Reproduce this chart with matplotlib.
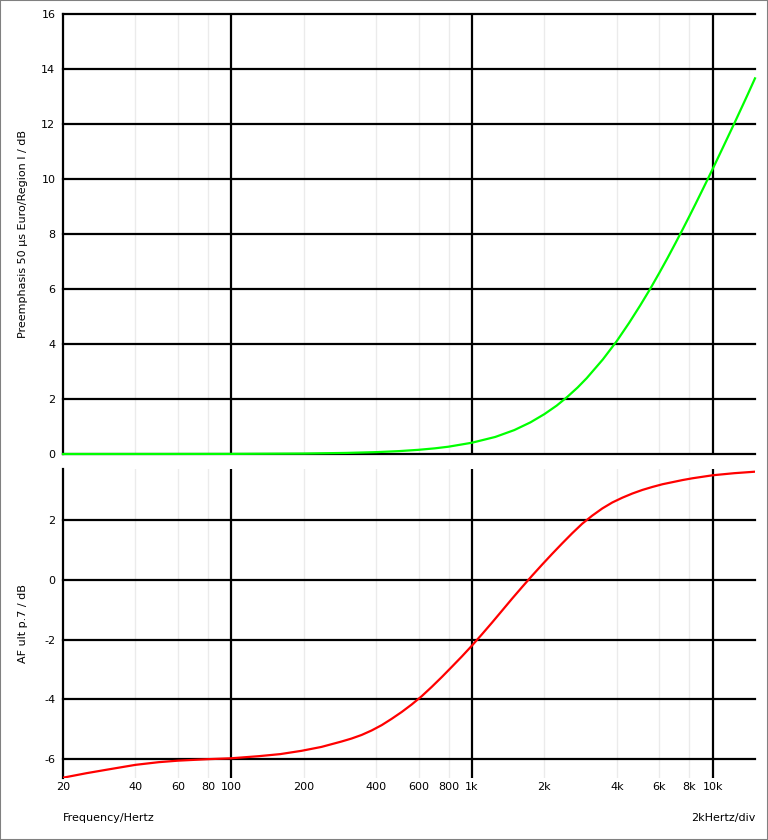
import matplotlib

matplotlib.use('agg')

import matplotlib.pyplot as plt
from matplotlib.patches import Rectangle

# values
freq_top = [20, 50, 100, 200, 300, 400, 500, 600, 700, 800, 1000, 1250, 1500, 1750,
            2000, 2250, 2500, 2750, 3000, 3500, 4000, 4500, 5000, 5500, 6000, 6500,
            7000, 7500, 8000, 8500, 9000, 9500, 10000, 11000, 12000, 12500, 13500,
            14000, 15000]
preemph_db = [0.0, 0.001, 0.004, 0.017, 0.039, 0.068, 0.106, 0.152, 0.205, 0.266,
              0.41, 0.62, 0.87, 1.15, 1.45, 1.76, 2.09, 2.42, 2.76, 3.44, 4.11, 4.77,
              5.40, 6.00, 6.58, 7.13, 7.66, 8.16, 8.64, 9.10, 9.54, 9.96, 10.36,
              11.12, 11.82, 12.15, 12.78, 13.08, 13.66]

freq_bot = [20, 25, 30, 40, 50, 60, 80, 100, 130, 160, 196, 237, 287, 316, 348, 383,
            422, 464, 511, 562, 619, 681, 750, 825, 909, 1000, 1101, 1212, 1334, 1468,
            1616, 1778, 1957, 2154, 2371, 2610, 2873, 3162, 3481, 3831, 4217, 4642,
            5109, 5623, 6190, 6813, 7499, 8254, 9085, 10000, 12300, 15000]
af_db = [-6.62, -6.47, -6.36, -6.19, -6.10, -6.05, -6.00, -5.97, -5.90, -5.83, -5.72,
         -5.59, -5.41, -5.31, -5.19, -5.04, -4.86, -4.65, -4.42, -4.17, -3.89, -3.58,
         -3.25, -2.91, -2.56, -2.20, -1.82, -1.43, -1.03, -0.63, -0.24, 0.14, 0.51,
         0.87, 1.22, 1.56, 1.88, 2.15, 2.39, 2.59, 2.75, 2.89, 3.01, 3.11, 3.20,
         3.27, 3.34, 3.40, 3.45, 3.50, 3.57, 3.62]

major_x = [100, 1000, 10000]
minor_x = [20, 40, 60, 80, 200, 400, 600, 800, 2000, 4000, 6000, 8000]
tick_pos = [20, 40, 60, 80, 100, 200, 400, 600, 800, 1000, 2000, 4000, 6000, 8000, 10000]
tick_lab = ['20', '40', '60', '80', '100', '200', '400', '600', '800', '1k',
            '2k', '4k', '6k', '8k', '10k']
top_yticks = [0, 2, 4, 6, 8, 10, 12, 14, 16]
bot_yticks = [-6, -4, -2, 0, 2]

plt.rcParams['font.family'] = ['DejaVu Sans']
plt.rcParams['font.size'] = 8

fig = plt.figure(figsize=(7.68, 8.40), dpi=100)
fig.patches.append(Rectangle((0, 0), 1, 1, transform=fig.transFigure, fill=False,
                             edgecolor='#808080', linewidth=1.5))

ax1 = fig.add_axes([63 / 768, 1 - 454 / 840, 692 / 768, 440 / 840])
ax2 = fig.add_axes([63 / 768, 1 - 778 / 840, 692 / 768, 309 / 840])


def style(ax, yticks, ylim):
    ax.set_xscale('log')
    ax.set_xlim(20, 15000)
    ax.set_ylim(*ylim)
    for s in ['top', 'right', 'bottom']:
        ax.spines[s].set_visible(False)
    ax.spines['left'].set_linewidth(1.6)
    ax.spines['left'].set_color('black')
    for x in minor_x:
        ax.axvline(x, color='#ebebeb', lw=1, zorder=0)
    for x in major_x:
        ax.axvline(x, color='black', lw=1.6, zorder=1)
    for y in yticks:
        ax.axhline(y, color='black', lw=1.6, zorder=1, clip_on=False)
    ax.set_yticks(yticks)
    ax.set_yticklabels([str(v) for v in yticks])
    ax.tick_params(axis='y', length=0, pad=5.5)
    ax.minorticks_off()
    ax.set_xticks(tick_pos)
    ax.set_xticklabels(tick_lab)
    ax.tick_params(axis='x', length=0, pad=3)


style(ax1, top_yticks, (0, 16))
style(ax2, bot_yticks, (-6.63, 3.71))
ax1.set_xticklabels([])

ax1.plot(freq_top, preemph_db, color='#00ff00', lw=1.6, zorder=3, clip_on=False)
ax2.plot(freq_bot, af_db, color='#ff0000', lw=1.6, zorder=3)

ax1.set_ylabel('Preemphasis 50 µs Euro/Region I / dB')
ax2.set_ylabel('AF ult p.7 / dB')
ax1.yaxis.set_label_coords(-0.05, 0.5)
ax2.yaxis.set_label_coords(-0.05, 0.5)

fig.text(63 / 768, 1 - 818 / 840, 'Frequency/Hertz', ha='left', va='center')
fig.text(755 / 768, 1 - 818 / 840, '2kHertz/div', ha='right', va='center')

plt.savefig('out.png', dpi=100)
